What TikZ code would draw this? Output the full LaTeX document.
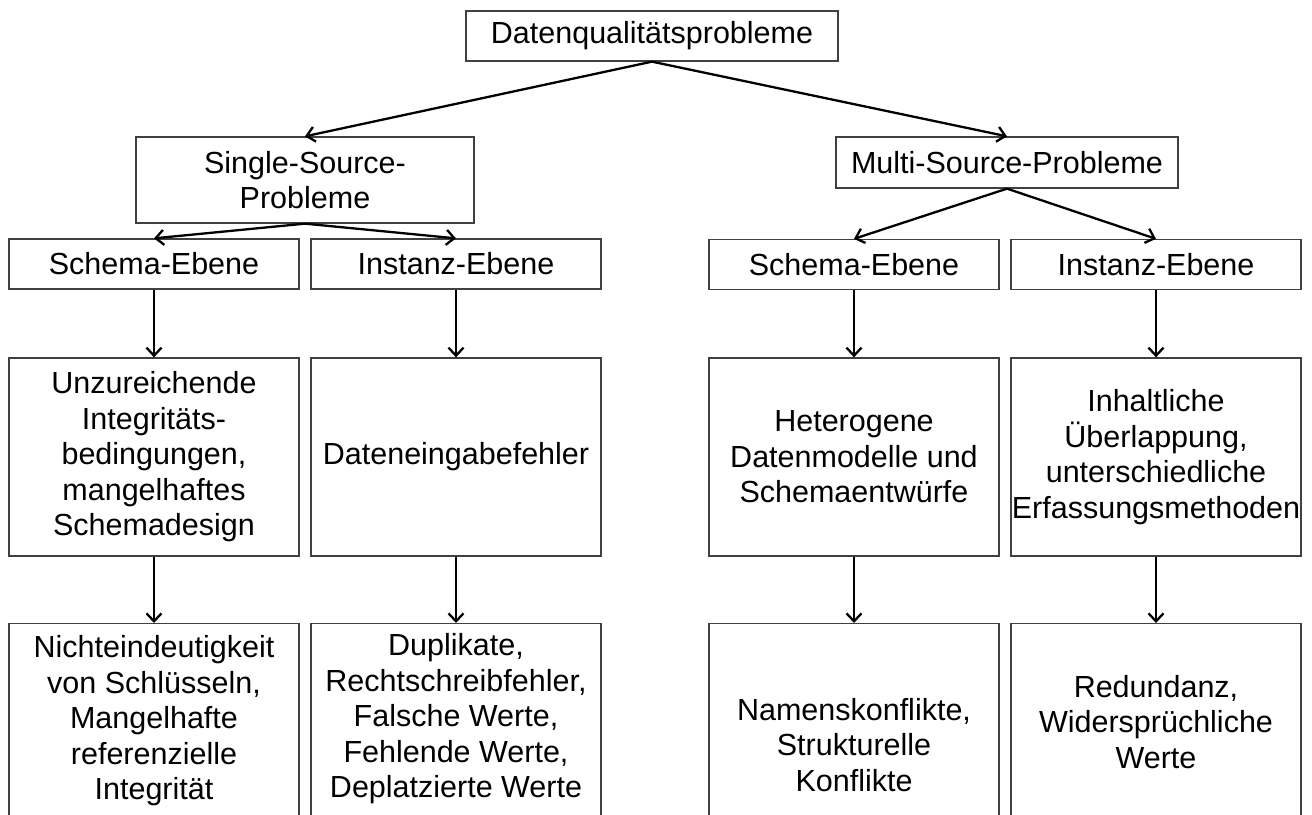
\documentclass[tikz,border=0pt]{standalone}
\usepackage{fontspec}
\setmainfont{Liberation Sans}
\usetikzlibrary{arrows.meta}
\begin{document}
\begin{tikzpicture}[x=1pt,y=-1pt,
  box/.style={draw=black!75, line width=1.3pt, inner sep=0pt, align=center,
    font=\fontsize{30.5}{35.5}\selectfont},
  lbl/.style={inner sep=0pt, align=center, font=\fontsize{30.5}{35.5}\selectfont},
  link/.style={draw=black, line width=2.3pt, -{Straight Barb[length=8pt,width=15pt]}}]
\useasboundingbox (0,0) rectangle (1312,814);
\clip (0,0) rectangle (1312,814);

% root and the two main branches
\node[box, minimum width=372pt, minimum height=50pt] (top) at (652,36) {Datenqualitätsprobleme};
\node[box, minimum width=338pt, minimum height=86pt] (ss) at (305,180) {Single-Source-\\Probleme};
\node[box, minimum width=342pt, minimum height=51pt] (ms) at (1007,162.5) {Multi-Source-Probleme};

% level: schema / instance
\node[box, minimum width=290pt, minimum height=50pt] (sa) at (154,264) {Schema-Ebene};
\node[box, minimum width=290pt, minimum height=50pt] (sb) at (456,264) {Instanz-Ebene};
\node[box, minimum width=290pt, minimum height=50pt] (mc) at (854,264.5) {Schema-Ebene};
\node[box, minimum width=290pt, minimum height=50pt] (md) at (1156,264.5) {Instanz-Ebene};

% causes
\node[box, minimum width=290pt, minimum height=198pt] (sa3) at (154,457)
  {Unzureichende\\Integritäts-\\bedingungen,\\mangelhaftes\\Schemadesign};
\node[box, minimum width=290pt, minimum height=198pt] (sb3) at (456,457)
  {Dateneingabefehler};
\node[box, minimum width=290pt, minimum height=198pt] (mc3) at (854,457)
  {Heterogene\\Datenmodelle und\\Schemaentwürfe};
\node[box, minimum width=290pt, minimum height=198pt] (md3) at (1156,457)
  {Inhaltliche\\Überlappung,\\unterschiedliche\\Erfassungsmethoden};

% concrete problems (boxes run past the lower edge)
\node[box, anchor=north, minimum width=290pt, minimum height=230pt] (sa4) at (154,623) {};
\node[box, anchor=north, minimum width=290pt, minimum height=230pt] (sb4) at (456,623) {};
\node[box, anchor=north, minimum width=290pt, minimum height=230pt] (mc4) at (854,623) {};
\node[box, anchor=north, minimum width=290pt, minimum height=230pt] (md4) at (1156,623) {};
\node[lbl] (sa4t) at (154,721)
  {Nichteindeutigkeit\\von Schlüsseln,\\Mangelhafte\\referenzielle\\Integrität};
\node[lbl] (sb4t) at (456,719)
  {Duplikate,\\Rechtschreibfehler,\\Falsche Werte,\\Fehlende Werte,\\Deplatzierte Werte};
\node[lbl] (mc4t) at (854,745)
  {Namenskonflikte,\\Strukturelle\\Konflikte};
\node[lbl] (md4t) at (1156,722)
  {Redundanz,\\Widersprüchliche\\Werte};

% connectors
\draw[link] (top.south) -- (ss.north);
\draw[link] (top.south) -- (ms.north);
\draw[link] (ss.south) -- (sa.north);
\draw[link] (ss.south) -- (sb.north);
\draw[link] (ms.south) -- (mc.north);
\draw[link] (ms.south) -- (md.north);
\draw[link] (sa.south) -- (sa3.north);
\draw[link] (sb.south) -- (sb3.north);
\draw[link] (mc.south) -- (mc3.north);
\draw[link] (md.south) -- (md3.north);
\draw[link] (sa3.south) -- (sa4.north);
\draw[link] (sb3.south) -- (sb4.north);
\draw[link] (mc3.south) -- (mc4.north);
\draw[link] (md3.south) -- (md4.north);
\end{tikzpicture}
\end{document}
